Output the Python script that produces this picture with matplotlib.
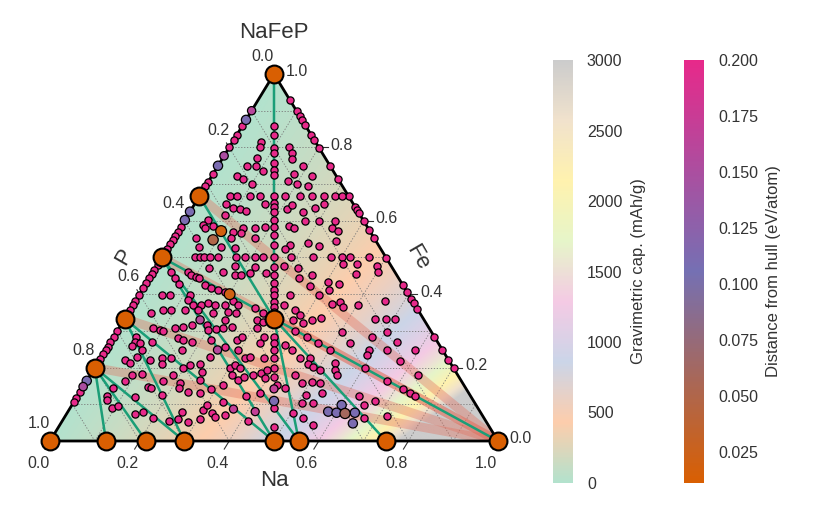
import numpy as np
import matplotlib
matplotlib.use("Agg")
import matplotlib.pyplot as plt
from matplotlib.colors import LinearSegmentedColormap, Normalize
from matplotlib.patches import Polygon
from matplotlib.cm import ScalarMappable

plt.rcParams["font.family"] = ["Liberation Sans", "DejaVu Sans"]
TEXT = "#333333"

# stable phases (on the hull): fraction Na, fraction Fe, P = 1 - Na - Fe
hull_names = ["P", "NaP7", "Na3P11", "Na3P7", "NaP", "Na5P4", "Na3P", "Na",
              "FeP4", "FeP2", "FeP", "Fe2P", "Fe", "NaFeP"]
hull_na = [0.0, 0.125, 0.2143, 0.3, 0.5, 0.5556, 0.75, 1.0,
           0.0, 0.0, 0.0, 0.0, 0.0, 0.3333]
hull_fe = [0.0, 0.0, 0.0, 0.0, 0.0, 0.0, 0.0, 0.0,
           0.2, 0.3333, 0.5, 0.6667, 1.0, 0.3333]

tie_lines = [
    ("Fe", "NaFeP"), ("Fe2P", "NaFeP"), ("FeP", "NaFeP"), ("FeP", "NaP"),
    ("FeP", "Na5P4"), ("NaFeP", "Na5P4"), ("NaFeP", "Na3P"), ("NaFeP", "Na"),
    ("FeP2", "NaP"), ("FeP2", "Na3P7"), ("FeP4", "Na3P7"), ("FeP4", "Na3P11"),
    ("FeP4", "NaP7"),
]

# unstable phases (>= 0.2 eV/atom above hull)
# Fe-P binary edge (Na = 0): Fe fraction
fep_edge_fe = [0.857, 0.835, 0.82, 0.80, 0.727, 0.707, 0.694, 0.584, 0.570,
               0.559, 0.548, 0.536, 0.524, 0.48, 0.466, 0.454, 0.443, 0.43,
               0.416, 0.398, 0.381, 0.371, 0.357, 0.3, 0.284, 0.27, 0.257,
               0.248, 0.236, 0.223, 0.134, 0.118, 0.105]
# Na-Fe binary edge (P = 0): Fe fraction
nafe_edge_fe = [0.93, 0.898, 0.886, 0.874, 0.86, 0.835, 0.821, 0.798, 0.749,
                0.714, 0.667, 0.638, 0.629, 0.62, 0.6, 0.575, 0.554, 0.498,
                0.425, 0.405, 0.387, 0.375, 0.36, 0.284, 0.248, 0.221, 0.198]
# NaP-Fe join (Na = P): Fe fraction
nap_fe_line_fe = [0.859, 0.834, 0.798, 0.784, 0.757, 0.738, 0.725, 0.667,
                  0.648, 0.637, 0.625, 0.602, 0.584, 0.561, 0.534, 0.502,
                  0.475, 0.452, 0.43, 0.411, 0.398, 0.38, 0.366, 0.352, 0.284,
                  0.266, 0.248, 0.227, 0.198, 0.175, 0.091, 0.039]
# ternary phases: (Na, Fe)
ternary_na_fe = [
    (.064, .815), (.068, .800), (.133, .801), (.147, .785), (.155, .769),
    (.076, .771), (.085, .749), (.064, .750), (.108, .737), (.181, .728),
    (.191, .749), (.225, .721), (.058, .721), (.074, .715), (.101, .700),
    (.178, .708), (.201, .700), (.229, .694),
    (.068, .667), (.085, .667), (.113, .667), (.135, .667), (.191, .667),
    (.225, .667), (.252, .667), (.279, .667), (.303, .667), (.318, .667),
    (.071, .645), (.091, .636), (.107, .632), (.125, .627), (.157, .645),
    (.082, .616), (.052, .602), (.047, .589), (.056, .580), (.071, .587),
    (.123, .570), (.141, .580), (.166, .581), (.187, .584), (.144, .566),
    (.129, .552), (.118, .529), (.150, .525), (.050, .552), (.069, .529),
    (.181, .552),
    (.073, .5), (.084, .5), (.094, .5), (.107, .5), (.124, .5), (.166, .5),
    (.185, .5), (.207, .5), (.226, .5), (.288, .5), (.336, .5), (.377, .5),
    (.401, .5), (.420, .5), (.463, .5),
    (.118, .472), (.156, .460), (.173, .478), (.186, .452), (.201, .452),
    (.217, .457), (.219, .475), (.254, .457), (.041, .460), (.056, .445),
    (.075, .427), (.078, .460), (.089, .452), (.103, .448), (.112, .443),
    (.134, .425), (.152, .416), (.169, .411), (.187, .407),
    (.050, .398), (.068, .398), (.113, .398), (.337, .398), (.402, .398),
    (.116, .384), (.134, .371), (.152, .371), (.165, .375), (.182, .371),
    (.205, .371), (.218, .381), (.234, .371), (.052, .348), (.074, .357),
    (.092, .357), (.122, .357), (.152, .357), (.190, .348), (.221, .352),
    (.242, .348), (.276, .362), (.302, .348),
    (.212, .632), (.218, .643), (.253, .625), (.275, .634), (.288, .645),
    (.239, .587), (.254, .581), (.269, .600), (.301, .600), (.336, .600),
    (.339, .580), (.357, .572), (.307, .539), (.335, .531), (.367, .545),
    (.269, .534), (.263, .523), (.283, .478), (.358, .452), (.414, .482),
    (.445, .481), (.456, .454), (.490, .478), (.502, .461), (.405, .432),
    (.418, .411), (.432, .427), (.334, .445), (.369, .423), (.337, .371),
    (.368, .357), (.443, .372), (.458, .380), (.472, .366), (.503, .371),
    (.557, .381), (.386, .343), (.319, .471),
    (.051, .284), (.054, .271), (.054, .260), (.068, .266), (.081, .248),
    (.079, .230), (.092, .271), (.077, .307), (.094, .302), (.103, .300),
    (.125, .309), (.142, .311), (.158, .316), (.146, .280), (.160, .275),
    (.181, .271), (.170, .248), (.057, .221), (.073, .212), (.113, .221),
    (.137, .225), (.157, .227), (.145, .209), (.198, .198), (.209, .207),
    (.092, .180), (.114, .182), (.086, .163), (.171, .163), (.185, .180),
    (.212, .157), (.215, .144), (.242, .134), (.069, .144), (.065, .123),
    (.129, .121), (.145, .148), (.153, .145), (.187, .125), (.093, .089),
    (.104, .096), (.153, .073), (.169, .078), (.200, .062), (.238, .054),
    (.255, .060), (.254, .080), (.282, .053), (.071, .112), (.305, .059),
    (.299, .084), (.323, .075),
    (.192, .316), (.202, .302), (.217, .305), (.233, .307), (.226, .330),
    (.250, .311), (.296, .330), (.308, .307), (.314, .325), (.378, .330),
    (.405, .321), (.419, .330), (.438, .334), (.502, .298), (.397, .300),
    (.431, .284), (.466, .266), (.501, .248), (.222, .275), (.262, .257),
    (.279, .275), (.286, .284), (.295, .248), (.323, .225), (.332, .230),
    (.336, .284), (.336, .266), (.366, .225), (.394, .262), (.416, .248),
    (.445, .225), (.468, .225), (.472, .209), (.486, .202), (.506, .193),
    (.530, .212), (.540, .193), (.550, .180), (.230, .209), (.242, .230),
    (.244, .189), (.303, .198), (.309, .207), (.325, .198), (.316, .180),
    (.337, .166), (.346, .175), (.364, .180), (.380, .184), (.394, .171),
    (.387, .193), (.252, .166), (.310, .153), (.289, .142), (.270, .130),
    (.301, .098), (.377, .123), (.404, .130), (.430, .153), (.453, .144),
    (.457, .180), (.483, .157), (.503, .162), (.524, .157), (.510, .125),
    (.542, .130), (.536, .103), (.510, .103), (.333, .107), (.335, .066),
    (.355, .071), (.415, .054), (.505, .075), (.534, .062), (.566, .044),
    (.559, .332), (.585, .332), (.604, .332), (.537, .266), (.576, .284),
    (.603, .298), (.639, .271), (.587, .248), (.590, .234), (.604, .198),
    (.628, .248), (.691, .248), (.672, .218), (.731, .180), (.670, .163),
    (.718, .142), (.739, .130), (.754, .123), (.628, .123), (.671, .109),
    (.652, .098), (.670, .063), (.717, .069),
]
# phases close to the hull: (Na, Fe, distance eV/atom)
near_hull = [
    (0.0, 0.90, 0.16), (0.0, 0.875, 0.11), (0.0, 0.777, 0.15),
    (0.0, 0.75, 0.11), (0.0, 0.625, 0.11), (0.0, 0.602, 0.11),
    (0.0, 0.164, 0.11), (0.0, 0.148, 0.15),
    (0.4455, 0.109, 0.11), (0.429, 0.142, 0.17),
    (0.096, 0.572, 0.018), (0.090, 0.548, 0.05), (0.201, 0.400, 0.02),
    (0.170, 0.330, 0.16), (0.250, 0.248, 0.16), (0.418, 0.080, 0.17),
    (0.366, 0.087, 0.17), (0.581, 0.080, 0.11),
    (0.602, 0.098, 0.11), (0.601, 0.077, 0.11), (0.642, 0.077, 0.11),
    (0.652, 0.048, 0.11), (0.621, 0.075, 0.06),
]

# constants for the gravimetric capacity of Na_x(Fe,P) hosts
M_FE, M_P = 55.845, 30.974
F_MAH = 26801.5
CAP_MAX = 3000
DIST_MIN, DIST_MAX = 0.011, 0.2

cap_cmap = LinearSegmentedColormap.from_list(
    "pastel", ["#b3e2cd", "#fdcdac", "#cbd5e8", "#f4cae4",
               "#e6f5c9", "#fff2ae", "#f1e2cc", "#cccccc"])
dist_cmap = LinearSegmentedColormap.from_list(
    "hull", ["#d95f02", "#7570b3", "#e7298a"])
dist_norm = Normalize(DIST_MIN, DIST_MAX)

S3 = np.sqrt(3) / 2


def to_xy(na, fe):
    na = np.asarray(na, dtype=float)
    fe = np.asarray(fe, dtype=float)
    return na + fe / 2, fe * S3


fig = plt.figure(figsize=(8.22, 5.14), dpi=100)
ax = fig.add_axes([50 / 822, 73 / 514, 448 / 822, 367 / 514])
ax.set_xlim(0, 1)
ax.set_ylim(0, S3)
ax.axis("off")

# capacity background
gx, gy = np.meshgrid(np.linspace(0, 1, 600), np.linspace(0, S3, 520))
fe_g = gy / S3
na_g = gx - fe_g / 2
p_g = 1 - na_g - fe_g
host = M_FE * fe_g + M_P * p_g
with np.errstate(divide="ignore", invalid="ignore"):
    cap = np.where(host > 1e-6, F_MAH * na_g / host, CAP_MAX)
cap = np.clip(np.nan_to_num(cap, nan=CAP_MAX), 0, CAP_MAX)
im = ax.imshow(cap, extent=(0, 1, 0, S3), origin="lower", cmap=cap_cmap,
               vmin=0, vmax=CAP_MAX, interpolation="bilinear", aspect="auto",
               zorder=0)
tri = Polygon([(0, 0), (1, 0), (0.5, S3)], closed=True, facecolor="none",
              edgecolor="none", transform=ax.transData)
ax.add_patch(tri)
im.set_clip_path(tri)

# dotted grid every 0.1
for k in range(1, 10):
    f = k / 10
    for (a, b) in [((0, f), (1 - f, f)), ((f, 0), (f, 1 - f)),
                   ((1 - f, 0), (0, 1 - f))]:
        x, y = to_xy([a[0], b[0]], [a[1], b[1]])
        ax.plot(x, y, color="#777777", lw=0.6, ls=(0, (1.5, 2)), zorder=1)

hull = {n: (a, b) for n, a, b in zip(hull_names, hull_na, hull_fe)}

# sodiation paths to the Na corner
for n in ["Fe2P", "FeP", "FeP2", "FeP4", "NaFeP"]:
    x, y = to_xy([hull[n][0], 1.0], [hull[n][1], 0.0])
    ax.plot(x, y, color="#e2705e", lw=6.5, alpha=0.38, solid_capstyle="butt",
            zorder=2)

# tie lines
for a, b in tie_lines:
    x, y = to_xy([hull[a][0], hull[b][0]], [hull[a][1], hull[b][1]])
    ax.plot(x, y, color="#1b9e77", lw=1.8, zorder=3)

# triangle border
bx, by = to_xy([0, 1, 0, 0], [0, 0, 1, 0])
ax.plot(bx, by, color="black", lw=2, zorder=3.5, clip_on=False)

# unstable phases
pts_na = ([0.0] * len(fep_edge_fe) + [1 - f for f in nafe_edge_fe]
          + [(1 - f) / 2 for f in nap_fe_line_fe] + [p[0] for p in ternary_na_fe])
pts_fe = (fep_edge_fe + nafe_edge_fe + nap_fe_line_fe
          + [p[1] for p in ternary_na_fe])
x, y = to_xy(pts_na, pts_fe)
ax.scatter(x, y, s=27, color=dist_cmap(1.0), edgecolors="black",
           linewidths=0.9, zorder=4, clip_on=False)

near_na = [p[0] for p in near_hull]
near_fe = [p[1] for p in near_hull]
near_d = np.array([p[2] for p in near_hull])
x, y = to_xy(near_na, near_fe)
ax.scatter(x, y, s=28 + 180 * (DIST_MAX - near_d), c=near_d, cmap=dist_cmap,
           norm=dist_norm, edgecolors="black", linewidths=0.9, zorder=5,
           clip_on=False)

# hull phases
x, y = to_xy(hull_na, hull_fe)
ax.scatter(x, y, s=165, color="#d95f02", edgecolors="black", linewidths=1.5,
           zorder=6, clip_on=False)

# ticks and tick labels
tick_vals = [0.0, 0.2, 0.4, 0.6, 0.8, 1.0]
for v in tick_vals:
    lab = f"{v:.1f}"
    # bottom: Na
    x0, y0 = to_xy(v, 0)
    ax.plot([x0, x0 - 0.5 * 0.022], [y0, y0 - S3 * 0.022], color=TEXT,
            lw=0.8, clip_on=False, zorder=3)
    ax.annotate(lab, (x0, y0), xytext=(-8.5, -16), textcoords="offset points",
                ha="center", va="center", fontsize=11.5, color=TEXT)
    # left: P
    x0, y0 = to_xy(0, 1 - v)
    ax.plot([x0, x0 - 0.5 * 0.012], [y0, y0 + S3 * 0.012], color=TEXT,
            lw=0.8, clip_on=False, zorder=3)
    ax.annotate(lab, (x0, y0), xytext=(-8, 12.5), textcoords="offset points",
                ha="center", va="center", fontsize=11.5, color=TEXT)
    # right: Fe
    x0, y0 = to_xy(1 - v, v)
    ax.plot([x0, x0 + 0.02], [y0, y0], color=TEXT, lw=0.8, clip_on=False,
            zorder=3)
    ax.annotate(lab, (x0, y0), xytext=(16.5, 1.5), textcoords="offset points",
                ha="center", va="center", fontsize=11.5, color=TEXT)

ax.text(0.5, 0.963, "NaFeP", ha="center", va="center", fontsize=16, color=TEXT)
ax.text(0.5, -0.094, "Na", ha="center", va="center", fontsize=16, color=TEXT)
ax.text(0.165, 0.435, "P", ha="center", va="center", fontsize=16, color=TEXT,
        rotation=60)
ax.text(0.821, 0.432, "Fe", ha="center", va="center", fontsize=16, color=TEXT,
        rotation=-60)

# colour bars
cax1 = fig.add_axes([553 / 822, 31 / 514, 20 / 822, 423 / 514])
cb1 = fig.colorbar(ScalarMappable(Normalize(0, CAP_MAX), cap_cmap), cax=cax1)
cb1.set_ticks([0, 500, 1000, 1500, 2000, 2500, 3000])
cb1.outline.set_visible(False)
cb1.ax.tick_params(length=0, pad=10, labelsize=11.5, labelcolor=TEXT)
cb1.set_label("Gravimetric cap. (mAh/g)", fontsize=12, color=TEXT, labelpad=6)

cax2 = fig.add_axes([684 / 822, 31 / 514, 20 / 822, 423 / 514])
cb2 = fig.colorbar(ScalarMappable(dist_norm, dist_cmap), cax=cax2)
cb2.set_ticks([0.025, 0.05, 0.075, 0.1, 0.125, 0.15, 0.175, 0.2])
cb2.ax.set_yticklabels(["0.025", "0.050", "0.075", "0.100", "0.125", "0.150",
                        "0.175", "0.200"])
cb2.outline.set_visible(False)
cb2.ax.tick_params(length=0, pad=10, labelsize=11.5, labelcolor=TEXT)
cb2.set_label("Distance from hull (eV/atom)", fontsize=12, color=TEXT,
              labelpad=6)

fig.savefig("out.png", dpi=100, facecolor="white")
